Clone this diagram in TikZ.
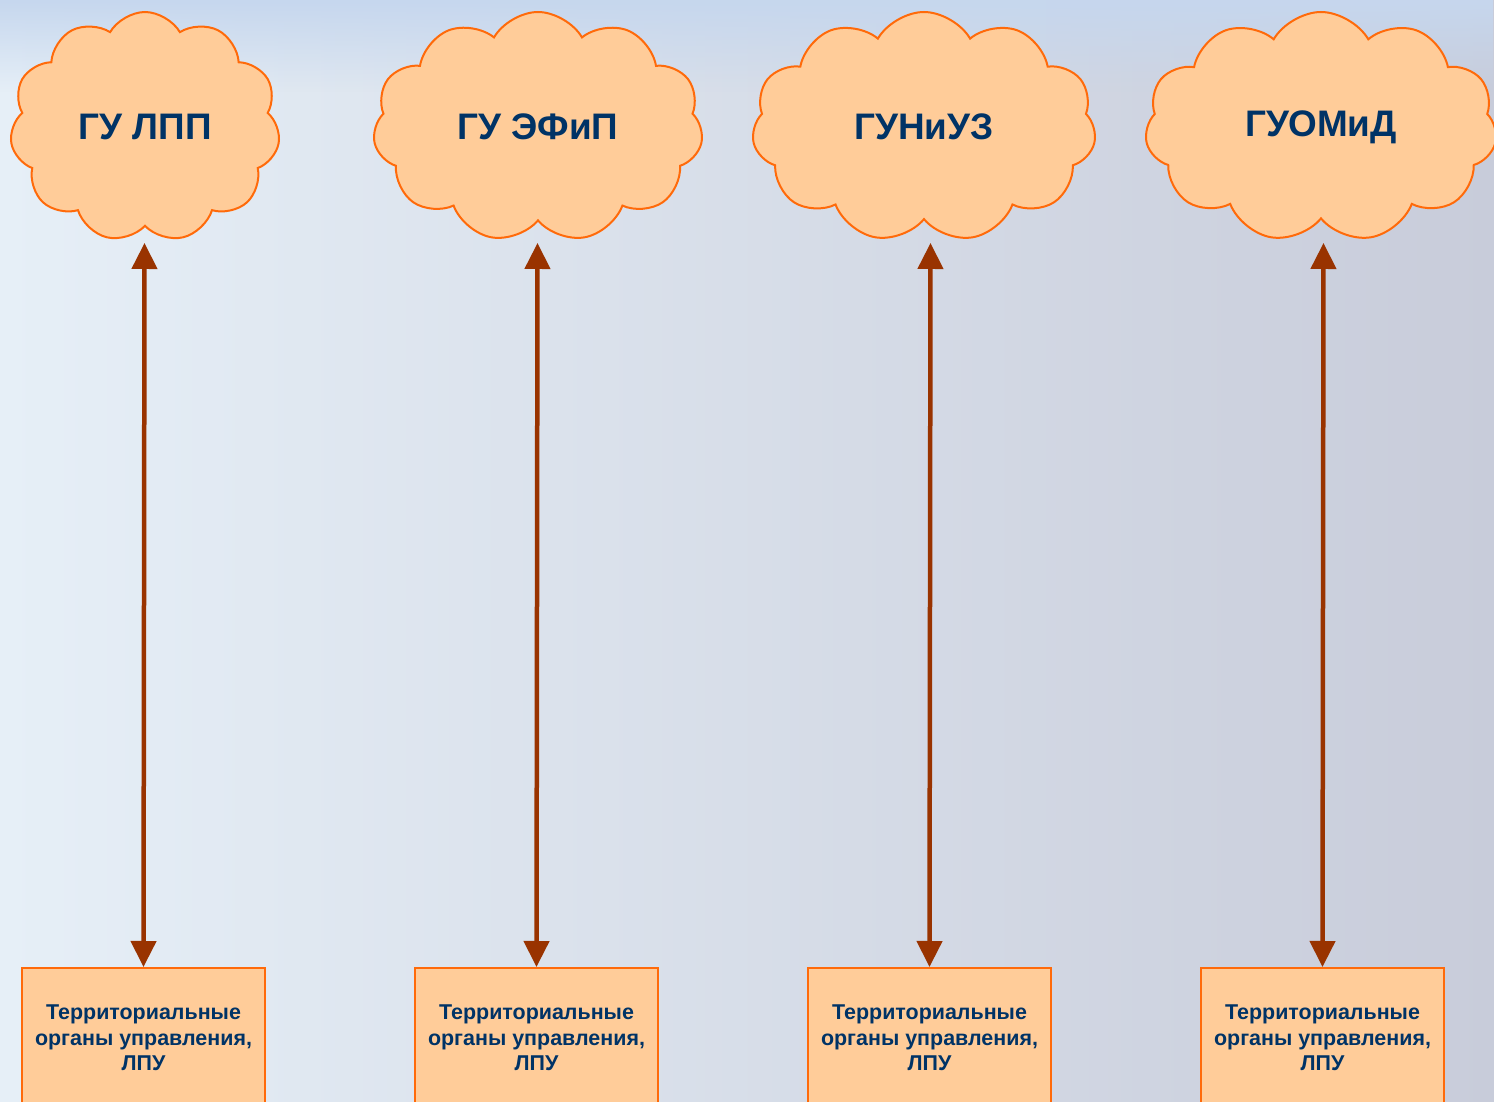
\documentclass[tikz,border=0pt]{standalone}
\usepackage{fontspec}
\setmainfont{Liberation Sans}
\usepackage{tikz}
\usetikzlibrary{shapes.symbols,arrows.meta,positioning,fadings}

\definecolor{CloudFill}{HTML}{FFCC99}
\definecolor{CloudLine}{HTML}{FF6A0A}
\definecolor{LinkRed}{HTML}{993300}
\definecolor{Navy}{HTML}{003366}
\definecolor{BgLeft}{HTML}{E6EFF7}
\definecolor{BgRight}{HTML}{C8CCDA}
\definecolor{BgTop}{HTML}{C6D7EE}

\begin{document}
\begin{tikzpicture}
			\tikzstyle{Cloud}	= [cloud, cloud puffs=11, cloud puff arc=120, draw=CloudLine, line width=0.02cm, fill=CloudFill, inner sep=0pt, text=Navy, font=\fontsize{10.5}{12}\selectfont\bfseries]
			\tikzstyle{Unit}	= [rectangle, draw=CloudLine, line width=0.02cm, fill=CloudFill, minimum width=2.43cm, minimum height=1.40cm, inner sep=0pt, text=Navy, align=center, font=\fontsize{6.1}{7.25}\selectfont\bfseries]
			\tikzstyle{Link}	= [LinkRed, line width=0.045cm, {Triangle[width=0.25cm,length=0.26cm]}-{Triangle[width=0.25cm,length=0.26cm]}]

			% background
			\useasboundingbox (0,0) rectangle (14.94,11.02);
			\shade [left color=BgLeft, right color=BgRight] (0,0) rectangle (14.94,11.02);
			\fill [BgTop, path fading=south] (0,10.10) rectangle (14.94,11.02);

			\node (cLPP) at (1.45, 9.75) [Cloud, aspect=1.17, minimum width=2.70cm, minimum height=2.30cm] {ГУ ЛПП};
			\node (cEFP) at (5.38, 9.75) [Cloud, aspect=1.43, minimum width=3.30cm, minimum height=2.30cm] {ГУ ЭФиП};
			\node (cNUZ) at (9.24, 9.75) [Cloud, aspect=1.50, minimum width=3.44cm, minimum height=2.30cm] {ГУНиУЗ};
			\node (cOMD) at (13.21, 9.75) [Cloud, aspect=1.53, minimum width=3.52cm, minimum height=2.30cm] {ГУОМиД};

			\node (bLPP) at (1.435, 0.64) [Unit] {Территориальные\\органы управления,\\ЛПУ};
			\node (bEFP) at (5.365, 0.64) [Unit] {Территориальные\\органы управления,\\ЛПУ};
			\node (bNUZ) at (9.295, 0.64) [Unit] {Территориальные\\органы управления,\\ЛПУ};
			\node (bOMD) at (13.225, 0.64) [Unit] {Территориальные\\органы управления,\\ЛПУ};

			\coordinate (tLPP) at (1.445, 8.59);
			\coordinate (tEFP) at (5.375, 8.59);
			\coordinate (tNUZ) at (9.305, 8.59);
			\coordinate (tOMD) at (13.235, 8.59);

			\draw [Link] (bLPP.north) to (tLPP);
			\draw [Link] (bEFP.north) to (tEFP);
			\draw [Link] (bNUZ.north) to (tNUZ);
			\draw [Link] (bOMD.north) to (tOMD);
		\end{tikzpicture}
\end{document}
